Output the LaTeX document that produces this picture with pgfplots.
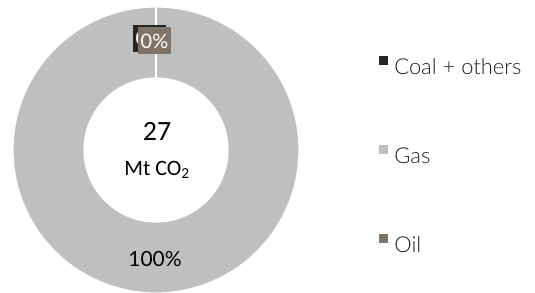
\documentclass[border=0pt]{standalone}
\usepackage{pgfplots}
\pgfplotsset{compat=1.18}
\usepackage{pgfplotstable}
\usepackage{fontspec}
\setmainfont{Lato}
\newfontfamily\lightfont{Lato Light}
\newfontfamily\calfont{Carlito}
\definecolor{coal}{RGB}{38,38,38}
\definecolor{gas}{RGB}{191,191,191}
\definecolor{oil}{RGB}{127,116,105}
\definecolor{txt}{RGB}{30,30,30}

\pgfplotstableread{
fuel share
Coal 0
Gas 100
Oil 0
}\shares

\pgfplotstablegetelem{0}{share}\of\shares \edef\sCoal{\pgfplotsretval}
\pgfplotstablegetelem{1}{share}\of\shares \edef\sGas{\pgfplotsretval}
\pgfplotstablegetelem{2}{share}\of\shares \edef\sOil{\pgfplotsretval}
\pgfmathsetmacro\aA{0}
\pgfmathsetmacro\aB{\aA+\sCoal*3.6}
\pgfmathsetmacro\aC{\aB+\sGas*3.6}
\pgfmathsetmacro\aD{\aC+\sOil*3.6}

% one slice of the ring: outer arc forward, inner arc back, from angle #2 to #3
\newcommand\ringplot[3]{%
\addplot[fill=#1, draw=white, line width=1.2pt, variable=\t,
  samples at={0,1,...,180,1000,1001,...,1180}]
  ({156+((\t<500)?143:72)*sin(((\t<500)?(#2+\t/180*(#3-#2)):(#3-(\t-1000)/180*(#3-#2))))},
   {150-((\t<500)?143:72)*cos(((\t<500)?(#2+\t/180*(#3-#2)):(#3-(\t-1000)/180*(#3-#2))))});
}

\begin{document}
\begin{tikzpicture}
\useasboundingbox (0,0) rectangle (535bp,293bp);
\begin{axis}[
  at={(0,0)}, anchor=south west,
  scale only axis, width=535bp, height=293bp,
  xmin=0, xmax=535, ymin=0, ymax=293, y dir=reverse,
  hide axis, clip=false,
  legend image code/.code={\fill[#1,draw=none] (0bp,3bp) rectangle (9bp,12bp); \path (0bp,0bp) (15bp,0bp);},
  legend style={at={(axis cs:378,56)}, anchor=north west, draw=none, fill=none,
    inner sep=0pt, row sep=67bp, cells={anchor=west},
    nodes={inner sep=0pt, text height=16bp, text depth=4bp,
      font=\lightfont\fontsize{22}{26}\selectfont, text=txt}},
]
\ringplot{coal}{\aA}{\aB}
\addlegendentry{Coal + others}
\ringplot{gas}{\aB}{\aC}
\addlegendentry{Gas}
\ringplot{oil}{\aC}{\aD}
\addlegendentry{Oil}

\node[fill=coal, text=white, minimum width=33bp, minimum height=27bp, inner sep=0pt,
  font=\fontsize{20}{24}\selectfont] at (axis cs:149.5,38.5) {0\%};
\node[fill=oil, text=white, minimum width=33bp, minimum height=27bp, inner sep=0pt,
  font=\fontsize{20}{24}\selectfont] at (axis cs:154.5,41) {0\%};
\node[text=black, font=\fontsize{21}{24}\selectfont] at (axis cs:155,259) {100\%};
\node[text=black, font=\calfont\fontsize{28}{32}\selectfont] at (axis cs:157,131) {27};
\node[text=black, font=\calfont\fontsize{22}{26}\selectfont] at (axis cs:157,170) {Mt CO\textsubscript{2}};
\end{axis}
\end{tikzpicture}
\end{document}
